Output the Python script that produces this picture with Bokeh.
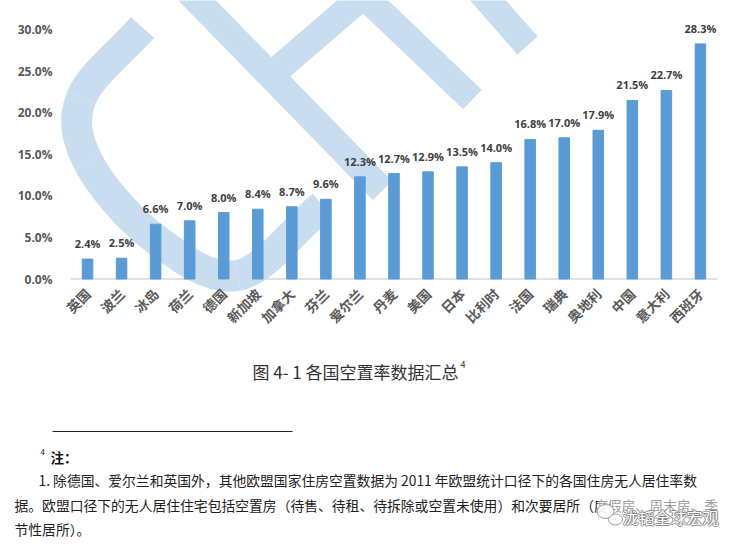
import numpy as np
from math import pi
from bokeh.plotting import figure
from bokeh.models import (ColumnDataSource, FixedTicker, PrintfTickFormatter,
                          Range1d, LabelSet)
from bokeh.core.properties import value
from bokeh.embed import file_html
from bokeh.resources import INLINE

# ---------------- data ----------------
countries = ["英国", "波兰", "冰岛", "荷兰", "德国", "新加坡", "加拿大", "芬兰", "爱尔兰",
             "丹麦", "美国", "日本", "比利时", "法国", "瑞典", "奥地利", "中国", "意大利", "西班牙"]
rates = [2.4, 2.5, 6.6, 7.0, 8.0, 8.4, 8.7, 9.6, 12.3,
         12.7, 12.9, 13.5, 14.0, 16.8, 17.0, 17.9, 21.5, 22.7, 28.3]
y_ticks = [0, 5, 10, 15, 20, 25, 30]

caption = "图 4- 1 各国空置率数据汇总"
caption_sup = "4"
note_mark = "4"
note_head = "注："
note_lines = [
    "1.  除德国、爱尔兰和英国外，其他欧盟国家住房空置数据为  2011  年欧盟统计口径下的各国住房无人居住率数",
    "据。欧盟口径下的无人居住住宅包括空置房（待售、待租、待拆除或空置未使用）和次要居所（度假房、周末房、季",
    "节性居所）。",
]
watermark_text = "泷韬全球宏观"

# ---------------- layout constants ----------------
W, H = 728, 540
PXX = 34.05   # px per category
PXY = 8.307   # px per percentage point
SX0, SY0 = 70.0, 278.5   # page position of category 0 left edge / value 0
WM = "#c9ddf1"
BAR = "#5B9BD5"
CJK = "Noto Sans CJK SC"


def dx(sx):
    return (np.asarray(sx, dtype=float) - SX0) / PXX


def dy(sy):
    return (SY0 - np.asarray(sy, dtype=float)) / PXY


p = figure(width=W, height=H, x_range=Range1d(float(dx(0)), float(dx(W))),
           y_range=Range1d(float(dy(H)), float(dy(0))), output_backend="svg",
           toolbar_location=None, min_border=0)
p.outline_line_color = None
p.grid.visible = False
p.background_fill_color = "white"

# ---- background watermark logo (decoration) ----
pts = np.array([(142, 27), (81, 97), (88, 162), (153, 237), (237, 275), (322, 205)], dtype=float)
tan = np.zeros_like(pts)
tan[0] = pts[1] - pts[0]
tan[-1] = pts[-1] - pts[-2]
for i in range(1, len(pts) - 1):
    tan[i] = (pts[i + 1] - pts[i - 1]) / 2
a = pts[:-1]
b = pts[1:]
c0 = a + tan[:-1] / 3
c1 = b - tan[1:] / 3
p.bezier(x0=dx(a[:, 0]), y0=dy(a[:, 1]), x1=dx(b[:, 0]), y1=dy(b[:, 1]),
         cx0=dx(c0[:, 0]), cy0=dy(c0[:, 1]), cx1=dx(c1[:, 0]), cy1=dy(c1[:, 1]),
         line_color=WM, line_width=31)
stripes = [
    [(187, -10), (382, 190)],
    [(262, 82), (363, -5), (472, 99)],
    [(478, -11), (527, 45)],
]
p.multi_line(xs=[list(dx([q[0] for q in s])) for s in stripes],
             ys=[list(dy([q[1] for q in s])) for s in stripes],
             line_color=WM, line_width=27, line_join="miter")

# ---- bars ----
xpos = [i + 0.5 for i in range(len(countries))]
src = ColumnDataSource(dict(x=xpos, country=countries, rate=rates,
                            label=[f"{r:.1f}%" for r in rates]))
p.segment(x0=[0], y0=[0], x1=[len(countries)], y1=[0], line_color="#d9d9d9", line_width=1.5)
p.vbar(x="x", top="rate", width=0.31, source=src, color=BAR)
p.add_layout(LabelSet(x="x", y="rate", text="label", source=src,
                      y_offset=8, text_align="center", text_baseline="bottom",
                      text_font=value("Open Sans"), text_font_style="bold",
                      text_font_size="11px", text_color="#404040"))

# ---- axes ----
p.yaxis.fixed_location = 0
p.yaxis.ticker = FixedTicker(ticks=y_ticks)
p.yaxis.formatter = PrintfTickFormatter(format="%.1f%%")
p.yaxis.axis_line_color = None
p.yaxis.major_tick_line_color = None
p.yaxis.minor_tick_line_color = None
p.yaxis.major_label_standoff = 12
p.yaxis.major_label_text_font = "Open Sans"
p.yaxis.major_label_text_font_style = "bold"
p.yaxis.major_label_text_font_size = "12px"
p.yaxis.major_label_text_color = "#595959"

p.xaxis.fixed_location = 0
p.xaxis.ticker = FixedTicker(ticks=xpos)
p.xaxis.major_label_overrides = {x: c for x, c in zip(xpos, countries)}
p.xaxis.axis_line_color = None
p.xaxis.major_tick_line_color = None
p.xaxis.minor_tick_line_color = None
p.xaxis.major_label_orientation = pi / 4
p.xaxis.major_label_standoff = 6
p.xaxis.major_label_text_font = CJK
p.xaxis.major_label_text_font_style = "bold"
p.xaxis.major_label_text_font_size = "13.5px"
p.xaxis.major_label_text_color = "#595959"

# ---------------- caption / footnote ----------------
def txt(sx, sy, s, size, align="left", bold=False, color="#222222"):
    p.text(x=[float(dx(sx))], y=[float(dy(sy))], text=[s], text_align=align,
           text_baseline="middle", text_font=value(CJK),
           text_font_style="bold" if bold else "normal",
           text_font_size=size, text_color=color)


txt(355, 371, caption, "17px", align="center", color="#333333")
txt(460, 364, caption_sup, "9px", color="#333333")
p.segment(x0=[float(dx(52))], y0=[float(dy(431))], x1=[float(dx(292))], y1=[float(dy(431))],
          line_color="#222222", line_width=1)
txt(40, 451, note_mark, "8px")
txt(50, 456, note_head, "13.5px", bold=True, color="#111111")
txt(38, 479, note_lines[0], "13.8px")
txt(14, 504, note_lines[1], "13.8px")
txt(14, 528, note_lines[2], "13.8px")

# bottom-right account watermark
p.rect(x=[float(dx(660))], y=[float(dy(512))], width=124, height=30,
       width_units="screen", height_units="screen", fill_color="white",
       fill_alpha=0.55, line_color=None)
p.ellipse(x=[float(dx(605)), float(dx(615))], y=[float(dy(511)), float(dy(519))],
          width=[17, 14], height=[14, 11], width_units="screen", height_units="screen",
          fill_color="white", fill_alpha=0.8, line_color="#9a9a9a", line_width=1)
for ox, oy in [(-1, 0), (1, 0), (0, -1), (0, 1)]:
    txt(622 + ox, 516 + oy, watermark_text, "16px", color="#8a8a8a")
txt(622, 516, watermark_text, "16px", color="white")

open("out.html", "w").write(file_html(p, INLINE))
